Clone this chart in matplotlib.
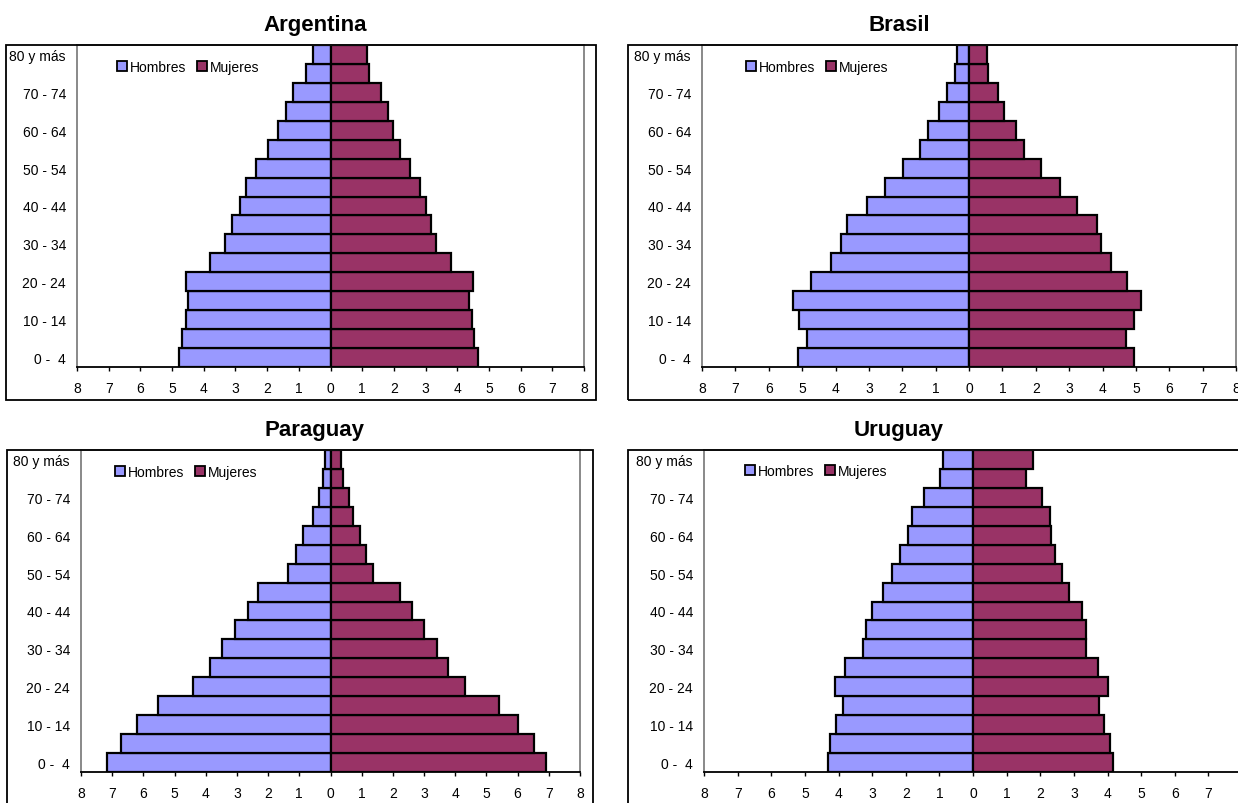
import matplotlib
matplotlib.use("Agg")
import matplotlib.pyplot as plt
from matplotlib.patches import Patch, Rectangle

plt.rcParams["font.family"] = ["Liberation Sans", "DejaVu Sans"]

# grupos de edad, de abajo hacia arriba
GRUPOS = ["0 -  4", "5 - 9", "10 - 14", "15 - 19", "20 - 24", "25 - 29",
          "30 - 34", "35 - 39", "40 - 44", "45 - 49", "50 - 54", "55 - 59",
          "60 - 64", "65 - 69", "70 - 74", "75 - 79", "80 y más"]

# % de la población total por sexo
ARG_H = [4.78, 4.69, 4.57, 4.51, 4.57, 3.81, 3.32, 3.10, 2.86, 2.68, 2.34,
         1.98, 1.67, 1.42, 1.17, 0.78, 0.56]
ARG_M = [4.66, 4.53, 4.45, 4.38, 4.50, 3.79, 3.34, 3.16, 3.01, 2.81, 2.52,
         2.19, 1.96, 1.81, 1.59, 1.22, 1.16]

BRA_H = [5.11, 4.85, 5.08, 5.27, 4.72, 4.13, 3.84, 3.65, 3.06, 2.52, 1.97,
         1.48, 1.22, 0.89, 0.67, 0.43, 0.37]
BRA_M = [4.93, 4.70, 4.95, 5.14, 4.74, 4.24, 3.97, 3.83, 3.25, 2.72, 2.16,
         1.65, 1.42, 1.06, 0.87, 0.56, 0.54]

PAR_H = [7.17, 6.73, 6.19, 5.54, 4.41, 3.87, 3.49, 3.07, 2.66, 2.31, 1.37,
         1.12, 0.87, 0.56, 0.38, 0.24, 0.19]
PAR_M = [6.91, 6.51, 6.01, 5.39, 4.32, 3.78, 3.41, 3.00, 2.60, 2.22, 1.36,
         1.15, 0.95, 0.72, 0.58, 0.39, 0.35]

URU_H = [4.32, 4.25, 4.06, 3.88, 4.11, 3.81, 3.28, 3.19, 2.99, 2.68, 2.41,
         2.16, 1.92, 1.82, 1.46, 0.99, 0.88]
URU_M = [4.15, 4.08, 3.89, 3.74, 4.01, 3.73, 3.35, 3.37, 3.23, 2.85, 2.66,
         2.45, 2.33, 2.28, 2.05, 1.58, 1.77]

COL_H = "#9999FF"
COL_M = "#993366"

W, H = 1238, 804
fig = plt.figure(figsize=(W / 100, H / 100), dpi=100)


def fx(px):
    return px / W


def fy(py):
    return 1 - py / H


# (país, hombres, mujeres, marco, área de trazado, título, leyenda) en píxeles
paneles = [
    ("Argentina", ARG_H, ARG_M, (6, 46, 596, 401), (77, 46, 584, 368), (315, 31), (117, 68)),
    ("Brasil", BRA_H, BRA_M, (628, 46, 1260, 401), (702, 46, 1236, 368), (899, 31), (746, 68)),
    ("Paraguay", PAR_H, PAR_M, (7, 451, 593, 806), (81, 451, 580, 773), (315, 436), (115, 473)),
    ("Uruguay", URU_H, URU_M, (628, 451, 1260, 806), (704, 451, 1242, 773), (899, 436), (745, 472)),
]

for pais, hom, muj, marco, area, tit, ley in paneles:
    # marco del gráfico
    fig.patches.append(Rectangle((fx(marco[0]), fy(marco[3])),
                                 fx(marco[2] - marco[0]), (marco[3] - marco[1]) / H,
                                 transform=fig.transFigure, fill=False,
                                 edgecolor="black", linewidth=1.3, zorder=0))

    ax = fig.add_axes([fx(area[0]), fy(area[3]),
                       fx(area[2] - area[0]), (area[3] - area[1]) / H])
    y = list(range(len(GRUPOS)))
    ax.barh(y, [-v for v in hom], height=1.0, color=COL_H,
            edgecolor="black", linewidth=1.6, label="Hombres")
    ax.barh(y, muj, height=1.0, color=COL_M,
            edgecolor="black", linewidth=1.6, label="Mujeres")

    ax.set_xlim(-8, 8)
    ax.set_ylim(-0.5, len(GRUPOS) - 0.5)
    ax.set_xticks(range(-8, 9))
    ax.set_xticklabels([str(abs(t)) for t in range(-8, 9)])
    ax.set_yticks(y[::2])
    ax.set_yticklabels(GRUPOS[::2])
    ax.tick_params(axis="x", direction="out", length=3, width=1, pad=7,
                   labelsize=10, colors="black")
    ax.tick_params(axis="y", length=0, pad=8, labelsize=10)

    for lado in ["left", "right", "top"]:
        ax.spines[lado].set_color("#808080")
        ax.spines[lado].set_linewidth(1.3)
    ax.spines["bottom"].set_color("black")
    ax.spines["bottom"].set_linewidth(1.3)

    fig.text(fx(tit[0]), fy(tit[1]), pais, ha="center", va="baseline",
             fontsize=16, fontweight="bold")

    handles = [Patch(facecolor=COL_H, edgecolor="black", linewidth=1.3, label="Hombres"),
               Patch(facecolor=COL_M, edgecolor="black", linewidth=1.3, label="Mujeres")]
    fig.legend(handles=handles, loc="center left",
               bbox_to_anchor=(fx(ley[0]), fy(ley[1])), ncol=2, frameon=False,
               fontsize=10, handlelength=0.7, handleheight=0.7,
               handletextpad=0.2, columnspacing=0.8, borderpad=0,
               borderaxespad=0)

fig.savefig("out.png", dpi=100)
